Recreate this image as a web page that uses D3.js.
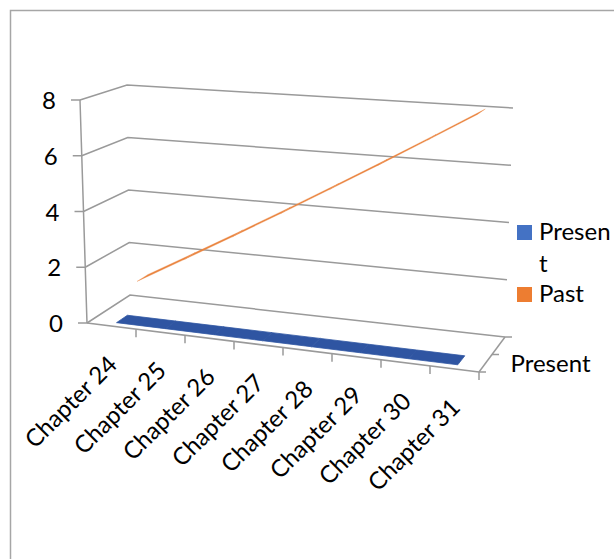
<!DOCTYPE html>
<html>
<head>
<meta charset="utf-8">
<script src="https://cdn.jsdelivr.net/npm/d3@7"></script>
<style>
  body { margin: 0; background: #fff; }
  text { font-family: Lato, "Open Sans", sans-serif; fill: #000; }
</style>
</head>
<body>
<div id="chart"></div>
<script>
"use strict";

var categories = ["Chapter 24", "Chapter 25", "Chapter 26", "Chapter 27",
                  "Chapter 28", "Chapter 29", "Chapter 30", "Chapter 31"];
var seriesNames = ["Present", "Past"];
var presentValues = [0, 0, 0, 0, 0, 0, 0, 0];
var pastValues = [1, 2, 3, 4, 5, 6, 7, 8];
var yTicks = [0, 2, 4, 6, 8];
var seriesColors = ["#2f55a2", "#ea8540"];
var legendColors = ["#4472c4", "#ed7d31"];

var ch = {w: 614, h: 559};

// screen corners of the 3d box (front/back, left/right, bottom/top)
var box = {
    flb: [87, 323], frb: [479, 372], blb: [130, 295], brb: [505, 337],
    flt: [80, 100], frt: [484, 129], blt: [127, 85], brt: [513, 108]
};

function lerp (a, b, t) {
    return [a[0] + (b[0] - a[0]) * t, a[1] + (b[1] - a[1]) * t];
}

// u: along categories, v: value, w: depth (0 front, 1 back)
function project (u, v, w) {
    var fb = lerp(lerp(box.flb, box.frb, u), lerp(box.flt, box.frt, u), v),
        bb = lerp(lerp(box.blb, box.brb, u), lerp(box.blt, box.brt, u), v);
    return lerp(fb, bb, w);
}

var x = d3.scaleLinear().domain([0, categories.length]).range([0, 1]);
var y = d3.scaleLinear().domain([0, 8]).range([0, 1]);
var z = d3.scalePoint().domain(seriesNames).range([0, 1]).padding(0.5);
var halfDepth = 0.13;

var svg = d3.select("#chart").append("svg")
    .attr("width", ch.w).attr("height", ch.h);

// outer border
svg.append("rect")
    .attr("x", 10.5).attr("y", 10.5)
    .attr("width", 800).attr("height", 800)
    .attr("fill", "none").attr("stroke", "#a6a6a6").attr("stroke-width", 1.5);

var line = d3.line();
var grid = svg.append("g")
    .attr("fill", "none").attr("stroke", "#9a9a9a").attr("stroke-width", 1.5);

// gridlines: side wall then back wall
yTicks.forEach(function (t) {
    grid.append("path").attr("d", line([
        project(0, y(t), 0), project(0, y(t), 1), project(1, y(t), 1)]));
});
// value axis, category axis, depth axis
grid.append("path").attr("d", line([project(0, 0, 0), project(0, 1, 0)]));
grid.append("path").attr("d", line([project(0, 0, 0), project(1, 0, 0)]));
grid.append("path").attr("d", line([project(1, 0, 0), project(1, 0, 1)]));

// value ticks and labels
yTicks.forEach(function (t) {
    var p = project(0, y(t), 0);
    grid.append("path").attr("d", line([[p[0] - 9, p[1]], p]));
    svg.append("text")
        .attr("x", p[0] - 24).attr("y", p[1] + 3)
        .attr("text-anchor", "end").attr("dominant-baseline", "middle")
        .attr("font-size", 24)
        .text(t);
});

// category ticks
d3.range(1, categories.length + 1).forEach(function (k) {
    var p = project(x(k), 0, 0);
    grid.append("path").attr("d", line([p, [p[0], p[1] + 8]]));
});

// depth ticks
[0, 0.5, 1].forEach(function (w) {
    var p = project(1, 0, w);
    grid.append("path").attr("d", line([p, [p[0] + 7, p[1]]]));
});

// category labels
categories.forEach(function (c, i) {
    var p = project(x(i + 0.5), 0, 0);
    svg.append("text")
        .attr("transform", "translate(" + (p[0] + 7) + "," + (p[1] + 40) +
              ") rotate(-45)")
        .attr("text-anchor", "end")
        .attr("font-size", 24)
        .text(c);
});

// depth label (only the front series name fits)
(function () {
    var p = project(1, 0, z("Present"));
    svg.append("text")
        .attr("x", p[0] + 25).attr("y", p[1] + 9)
        .attr("font-size", 24)
        .text("Present");
}());

// ribbons, back series first
[pastValues, presentValues].forEach(function (vals, j) {
    var name = j === 0 ? "Past" : "Present",
        w = z(name), i, pts = [], a, b;
    for(i = 0; i < vals.length - 1; i += 1) {
        a = [x(i + 0.5), y(vals[i])];
        b = [x(i + 1.5), y(vals[i + 1])];
        pts.push([project(a[0], a[1], w - halfDepth),
                  project(b[0], b[1], w - halfDepth),
                  project(b[0], b[1], w + halfDepth),
                  project(a[0], a[1], w + halfDepth)]);
    }
    svg.append("g").selectAll("path")
        .data(pts)
        .enter().append("path")
        .attr("d", function (d) { return line(d) + "Z"; })
        .attr("fill", seriesColors[seriesNames.indexOf(name)])
        .attr("stroke", seriesColors[seriesNames.indexOf(name)])
        .attr("stroke-width", name === "Past" ? 0.3 : 0.8);
});

// legend
var lg = svg.append("g").attr("font-size", 24);
lg.append("rect").attr("x", 517).attr("y", 225).attr("width", 15)
    .attr("height", 15).attr("fill", legendColors[0]);
lg.append("text").attr("x", 539).attr("y", 240).text("Presen")
    .append("tspan").attr("x", 539).attr("dy", 32).text("t");
lg.append("rect").attr("x", 517).attr("y", 287).attr("width", 15)
    .attr("height", 15).attr("fill", legendColors[1]);
lg.append("text").attr("x", 539).attr("y", 302).text(seriesNames[1]);
</script>
</body>
</html>
